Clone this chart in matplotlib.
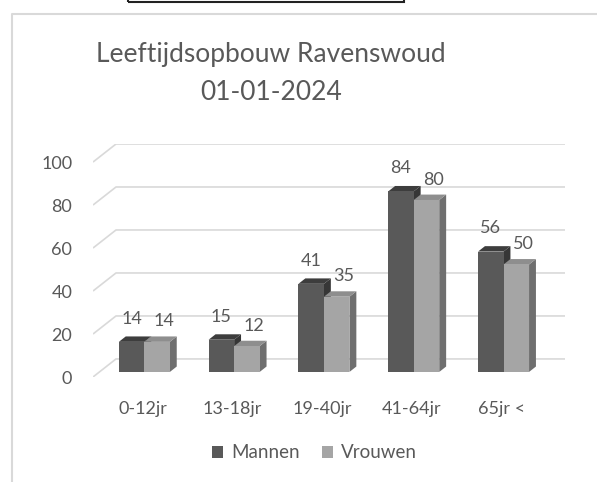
import matplotlib
matplotlib.use('Agg')
import matplotlib.pyplot as plt
from matplotlib.patches import Polygon, Patch, Rectangle
from matplotlib.lines import Line2D

# data
categories = ['0-12jr', '13-18jr', '19-40jr', '41-64jr', '65jr <']
mannen = [14, 15, 41, 84, 56]
vrouwen = [14, 12, 35, 80, 50]
series_names = ['Mannen', 'Vrouwen']
yticks = [0, 20, 40, 60, 80, 100]

W, H = 597, 482
FONT = ['Lato', 'DejaVu Sans']
TXT = '#595959'
GRID = '#d9d9d9'

plt.rcParams['font.family'] = FONT

fig = plt.figure(figsize=(W / 100, H / 100), dpi=100)

# axes = front floor (left) .. back wall (right/top)
x0, x1, y0, y1 = 93, 565, 377, 144
ax = fig.add_axes([x0 / W, 1 - y0 / H, (x1 - x0) / W, (y0 - y1) / H])

DX = 23 / 89.8   # depth offset in category units
DY = 8.4         # depth offset in value units
ax.set_xlim(-0.5, len(categories) - 0.5 + DX)
ax.set_ylim(0, 100 + DY)
for s in ax.spines.values():
    s.set_visible(False)

# gridlines: left wall diagonal + back wall
for v in yticks:
    ax.plot([-0.5, -0.5 + DX, len(categories) - 0.5 + DX], [v, v + DY, v + DY],
            color=GRID, lw=1.2, zorder=1, solid_capstyle='butt')

# 3d bars
d0 = 0.28
bd = 0.30
bw = 0.284
fronts = ['#595959', '#a5a5a5']
tops = ['#3d3d3d', '#8e8e8e']
sides = ['#363636', '#6f6f6f']
for s, vals in enumerate([mannen, vrouwen]):
    for i, v in enumerate(vals):
        c = i + d0 * DX
        xl = c - bw + s * bw
        xr = xl + bw
        yb = d0 * DY
        yt = v + d0 * DY
        bx, by = bd * DX, bd * DY
        ax.add_patch(Polygon([(xr, yb), (xr, yt), (xr + bx, yt + by), (xr + bx, yb + by)],
                             closed=True, fc=sides[s], ec='none', zorder=3 + s))
        ax.add_patch(Polygon([(xl, yt), (xr, yt), (xr + bx, yt + by), (xl + bx, yt + by)],
                             closed=True, fc=tops[s], ec='none', zorder=3 + s))
        ax.add_patch(Rectangle((xl, yb), bw, v, fc=fronts[s], ec='none', zorder=3 + s))
        lx = (xl + xr) / 2 + s * bx
        ax.annotate(str(v), (lx, yt + by), xytext=(0, 7 - 2 * s), textcoords='offset points',
                    ha='center', va='bottom', fontsize=13, color=TXT, zorder=6)

ax.set_yticks(yticks)
ax.set_yticklabels([str(v) for v in yticks], fontsize=13, color=TXT)
ax.set_xticks([i + 0.2 * DX for i in range(len(categories))])
ax.set_xticklabels(categories, fontsize=13, color=TXT)
ax.tick_params(axis='y', length=0, pad=15)
ax.tick_params(axis='x', length=0, pad=17)

fig.text(271 / W, 1 - 73.5 / H, 'Leeftijdsopbouw Ravenswoud\n01-01-2024',
         ha='center', va='center', fontsize=19, color=TXT, linespacing=1.62)

fig.legend(handles=[Patch(fc=fronts[0], ec='none'), Patch(fc=fronts[1], ec='none')],
           labels=series_names, loc='center', bbox_to_anchor=(314.5 / W, 1 - 453 / H),
           ncol=2, frameon=False, fontsize=13.5, labelcolor=TXT,
           handlelength=0.6, handleheight=0.6, handletextpad=0.4, columnspacing=1.2)

# chart area border and box above it
fig.add_artist(Line2D([12 / W, 12 / W, 1], [0, 1 - 14 / H, 1 - 14 / H],
                      color=GRID, lw=1.5))
fig.add_artist(Rectangle((128 / W, 1 - 2 / H), 276 / W, 6 / H, fill=False,
                         ec='#222222', lw=1.5))

fig.savefig('out.png', dpi=100)
